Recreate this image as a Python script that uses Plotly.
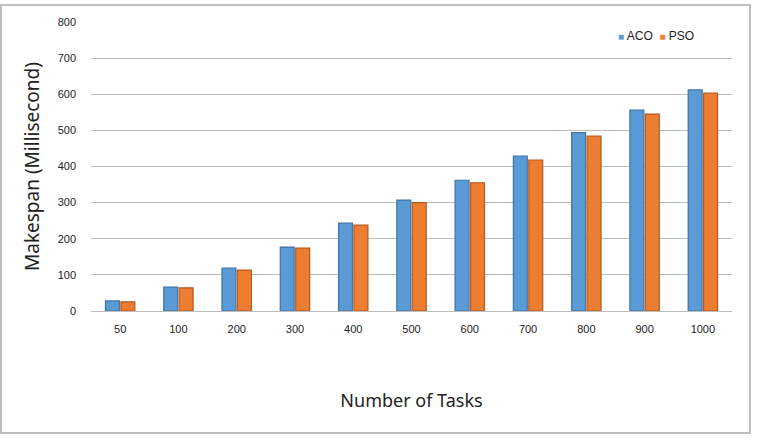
import plotly.graph_objects as go

categories = ["50", "100", "200", "300", "400", "500", "600", "700", "800", "900", "1000"]
aco = [28, 66, 119, 177, 243, 307, 362, 429, 494, 556, 612]
pso = [25, 64, 113, 174, 238, 300, 355, 418, 484, 545, 603]
y_ticks = [0, 100, 200, 300, 400, 500, 600, 700, 800]
series_names = ["ACO", "PSO"]
series_colors = ["#5B9BD5", "#ED7D31"]
series_borders = ["#3F72A8", "#B5571C"]

fig = go.Figure()
for name, vals, c, bc in zip(series_names, [aco, pso], series_colors, series_borders):
    fig.add_trace(go.Bar(name=name, x=categories, y=vals,
                         marker=dict(color=c, line=dict(color=bc, width=1.2))))

L, R, T, B = 91, 25, 22, 133
W, H = 757, 444
pw, ph = W - L - R, H - T - B

legend_text = "&nbsp;&nbsp;".join(
    f"<span style='color:{c};font-size:10px'>■</span> {n}" for n, c in zip(series_names, series_colors)
)

fig.update_layout(
    width=W, height=H,
    margin=dict(l=L, r=R, t=T, b=B, pad=0),
    paper_bgcolor="white", plot_bgcolor="white",
    barmode="group", bargap=0.47, bargroupgap=0.1,
    font=dict(family="Liberation Sans, Arial, sans-serif", color="#222222", size=11),
    showlegend=False,
    xaxis=dict(showgrid=False, showline=False, ticks="", zeroline=False,
               tickfont=dict(size=11), ticklabelstandoff=10,
               title=dict(text="Number of Tasks", font=dict(size=18, family="Noto Sans, sans-serif"),
                          standoff=60)),
    yaxis=dict(range=[0, 800], tickvals=y_ticks, showgrid=True, gridcolor="#BDBDBD",
               gridwidth=1, zeroline=True, zerolinecolor="#BDBDBD", zerolinewidth=1,
               showline=False, ticks="", tickfont=dict(size=11), ticklabelstandoff=14,
               title=dict(text="Makespan (Millisecond)", font=dict(size=19, family="Noto Sans, sans-serif"),
                          standoff=12)),
    annotations=[dict(text=legend_text, xref="paper", yref="paper",
                      x=(696 - L) / pw, xanchor="right", y=(H - B - 36) / ph, yanchor="middle",
                      showarrow=False, font=dict(size=12, color="#222222"))],
    shapes=[dict(type="rect", xref="paper", yref="paper",
                 x0=(1 - L) / pw, x1=(750 - L) / pw,
                 y0=(H - B - 433) / ph, y1=(H - B - 5) / ph,
                 line=dict(color="#BFBFBF", width=2), fillcolor="rgba(0,0,0,0)", layer="below")],
)

fig.write_html("out.html")
